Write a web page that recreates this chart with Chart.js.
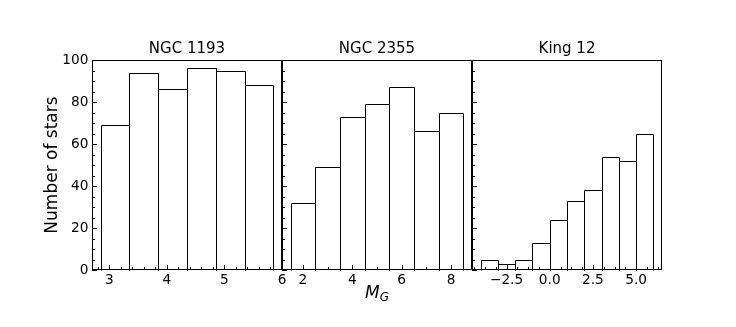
<!DOCTYPE html>
<html><head><meta charset="utf-8">
<script src="https://cdn.jsdelivr.net/npm/chart.js@4/dist/chart.umd.min.js"></script>
<style>
html,body{margin:0;padding:0;background:#fff;}
#wrap{position:relative;width:736px;height:327px;overflow:hidden;background:#fff;}
canvas{position:absolute;top:0;}
</style></head><body>
<div id="wrap">
<canvas id="c1"></canvas><canvas id="c2"></canvas><canvas id="c3"></canvas>
</div>
<script>
// ---- data ----
const panelTitles = ['NGC 1193', 'NGC 2355', 'King 12'];
const ngc1193Bins = [3.1, 3.6, 4.1, 4.6, 5.1, 5.6];
const ngc1193Counts = [69, 94, 86, 96, 95, 88];
const ngc2355Bins = [2, 3, 4, 5, 6, 7, 8];
const ngc2355Counts = [32, 49, 73, 79, 87, 66, 75];
const king12Bins = [-3.5, -2.5, -1.5, -0.5, 0.5, 1.5, 2.5, 3.5, 4.5, 5.5];
const king12Counts = [5, 3, 5, 13, 24, 33, 38, 54, 52, 65];
const ngc1193Ticks = [3, 4, 5, 6];
const ngc1193TickLabels = ['3', '4', '5', '6'];
const ngc2355Ticks = [2, 4, 6, 8];
const ngc2355TickLabels = ['2', '4', '6', '8'];
const king12Ticks = [-2.5, 0, 2.5, 5];
const king12TickLabels = ['\u22122.5', '0.0', '2.5', '5.0'];
const countTicks = [0, 20, 40, 60, 80, 100];
const countTickLabels = ['0', '20', '40', '60', '80', '100'];
const yLabel = 'Number of stars';
const xLabelMain = 'M', xLabelSub = 'G';

// ---- layout ----
const FONT = '"DejaVu Sans", "Liberation Sans", sans-serif';
Chart.defaults.font.family = FONT;
Chart.defaults.color = '#000';
const PANEL_W = 190, H = 327, PLOT_TOP = 60, PLOT_BOTTOM = 270, RIGHT_PAD = 14;
const panelLefts = [92, 282, 472];

const deco = {
  id: 'panelDeco',
  afterDatasetsDraw(chart) {
    // outline each histogram bar, using the bar elements laid out by Chart.js
    const {ctx} = chart;
    const meta = chart.getDatasetMeta(0);
    ctx.save();
    ctx.strokeStyle = '#000';
    ctx.lineWidth = 1;
    meta.data.forEach(el => {
      const p = el.getProps(['x', 'y', 'base', 'width'], true);
      const l = Math.round(p.x - p.width / 2) + 0.5;
      const r = Math.round(p.x + p.width / 2) + 0.5;
      const t = Math.round(p.y) + 0.5;
      const b = Math.round(p.base) + 0.5;
      ctx.beginPath();
      ctx.moveTo(l, b); ctx.lineTo(l, t); ctx.lineTo(r, t); ctx.lineTo(r, b);
      ctx.stroke();
    });
    ctx.restore();
  },
  afterDraw(chart, args, o) {
    const {ctx, chartArea: a} = chart;
    const xs = chart.scales.x, ys = chart.scales.y;
    ctx.save();
    ctx.strokeStyle = '#000';
    ctx.lineWidth = 1;
    // frame
    ctx.strokeRect(a.left + 0.5, a.top + 0.5, a.right - a.left - 1, a.bottom - a.top - 1);
    const MAJ = 5, MIN = 3;
    const line = (x1, y1, x2, y2) => { ctx.beginPath(); ctx.moveTo(x1, y1); ctx.lineTo(x2, y2); ctx.stroke(); };
    const minors = (majors, step, lo, hi) => {
      const out = [];
      for (let v = majors[0] - step; v >= lo - 1e-9; v -= step) out.push(v);
      for (let v = majors[0] + step; v <= hi + 1e-9; v += step) {
        if (!majors.some(m => Math.abs(m - v) < step * 0.01)) out.push(v);
      }
      return out;
    };
    // x ticks (bottom, inward)
    const xMaj = xs.ticks.map(t => t.value);
    xMaj.forEach(v => { const p = Math.round(xs.getPixelForValue(v)) + 0.5; line(p, a.bottom, p, a.bottom - MAJ); });
    minors(xMaj, o.xMinor, xs.min, xs.max).forEach(v => { const p = Math.round(xs.getPixelForValue(v)) + 0.5; line(p, a.bottom, p, a.bottom - MIN); });
    // y ticks (left, inward)
    const yMaj = ys.ticks.map(t => t.value);
    yMaj.forEach(v => { const p = Math.round(ys.getPixelForValue(v)) + 0.5; line(a.left, p, a.left + MAJ, p); });
    minors(yMaj, o.yMinor, ys.min, ys.max).forEach(v => { const p = Math.round(ys.getPixelForValue(v)) + 0.5; line(a.left, p, a.left + MIN, p); });
    // title
    ctx.fillStyle = '#000';
    ctx.font = '15px ' + FONT;
    ctx.textAlign = 'center';
    ctx.textBaseline = 'alphabetic';
    const cx = (a.left + a.right) / 2;
    ctx.fillText(o.title, cx, a.top - 7.3);
    // x label
    if (o.xLabel) {
      ctx.textAlign = 'left';
      ctx.font = 'italic 17px ' + FONT;
      const wM = ctx.measureText(xLabelMain).width;
      ctx.font = 'italic 12px ' + FONT;
      const wG = ctx.measureText(xLabelSub).width;
      const x0 = cx - (wM + wG) / 2;
      ctx.font = 'italic 17px ' + FONT;
      ctx.fillText(xLabelMain, x0, a.bottom + 27.7);
      ctx.font = 'italic 12px ' + FONT;
      ctx.fillText(xLabelSub, x0 + wM, a.bottom + 30.5);
    }
    ctx.restore();
  }
};

function makePanel(id, idx, bins, counts, ticks, tickLabels, xMinor, showY, showXLabel) {
  const axisW = showY ? 92 : 20;
  const canvas = document.getElementById(id);
  const cw = axisW + PANEL_W + RIGHT_PAD;
  canvas.width = cw; canvas.height = H;
  canvas.style.width = cw + 'px'; canvas.style.height = H + 'px';
  canvas.style.left = (panelLefts[idx] - axisW) + 'px';
  const bw = bins[1] - bins[0];
  const lo = bins[0] - bw / 2, hi = bins[bins.length - 1] + bw / 2;
  const m = 0.05 * (hi - lo);
  new Chart(canvas, {
    type: 'bar',
    data: {
      datasets: [{
        data: bins.map((b, i) => ({x: b, y: counts[i]})),
        backgroundColor: '#fff',
        borderWidth: 0,
        inflateAmount: 0,
        barPercentage: 1,
        categoryPercentage: 1
      }]
    },
    options: {
      responsive: false,
      maintainAspectRatio: false,
      animation: false,
      events: [],
      layout: {padding: {top: PLOT_TOP, left: 0, right: RIGHT_PAD, bottom: 0}},
      plugins: {
        legend: {display: false},
        tooltip: {enabled: false},
        title: {display: false},
        panelDeco: {title: panelTitles[idx], xMinor: xMinor, yMinor: 5, xLabel: showXLabel}
      },
      scales: {
        x: {
          type: 'linear', offset: false, min: lo - m, max: hi + m,
          grid: {display: false, drawTicks: false}, border: {display: false},
          afterBuildTicks: s => { s.ticks = ticks.map(v => ({value: v})); },
          afterFit: s => { s.height = H - PLOT_BOTTOM; },
          ticks: {padding: 1.8, font: {size: 13.7}, color: '#000', maxRotation: 0, autoSkip: false,
                  callback: (v, i) => tickLabels[i]}
        },
        y: {
          type: 'linear', min: 0, max: 100,
          grid: {display: false, drawTicks: false}, border: {display: false},
          afterBuildTicks: s => { s.ticks = countTicks.map(v => ({value: v})); },
          afterFit: s => { s.width = axisW; },
          ticks: {display: showY, padding: 3.5, font: {size: 13.7}, color: '#000',
                  callback: (v, i) => countTickLabels[i]},
          title: {display: showY, text: yLabel, font: {size: 17}, color: '#000', padding: {top: 42.3, bottom: 0}}
        }
      }
    },
    plugins: [deco]
  });
}

makePanel('c1', 0, ngc1193Bins, ngc1193Counts, ngc1193Ticks, ngc1193TickLabels, 0.2, true, false);
makePanel('c2', 1, ngc2355Bins, ngc2355Counts, ngc2355Ticks, ngc2355TickLabels, 0.5, false, true);
makePanel('c3', 2, king12Bins, king12Counts, king12Ticks, king12TickLabels, 0.625, false, false);
</script>
</body></html>
